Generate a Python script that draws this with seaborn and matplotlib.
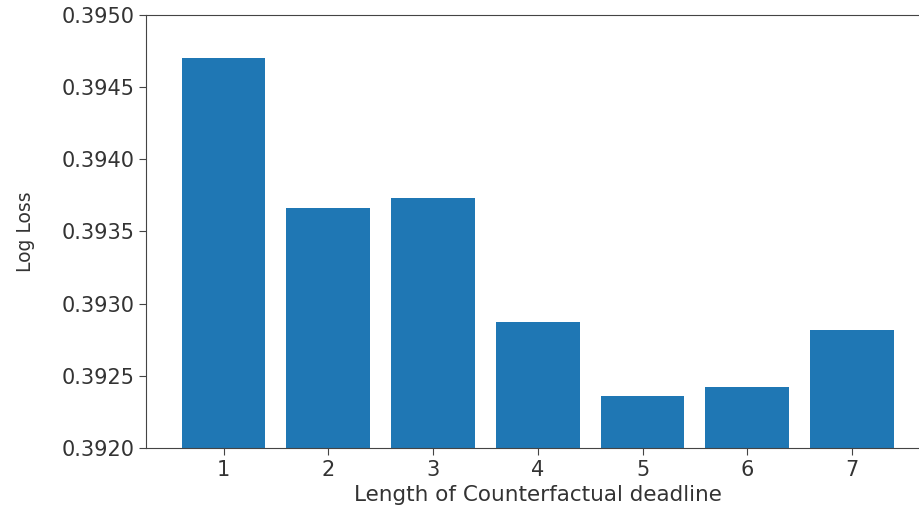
import matplotlib
matplotlib.use('Agg')
import matplotlib.pyplot as plt
from matplotlib.ticker import FormatStrFormatter, MultipleLocator
import seaborn as sns
import pandas as pd

# Log loss per counterfactual deadline length
deadline_lengths = [1, 2, 3, 4, 5, 6, 7]
log_loss = [0.39470, 0.39366, 0.39373, 0.39287, 0.39236, 0.39242, 0.39282]

df = pd.DataFrame({'length': deadline_lengths, 'loss': log_loss})

plt.rcParams['font.family'] = ['DejaVu Sans']
plt.rcParams['font.size'] = 13

fig = plt.figure(figsize=(9.19, 5.11), dpi=100)
# axes runs past the right edge like the cropped reference
ax = fig.add_axes([0.1589, 0.1233, 0.8526, 0.8474])

sns.barplot(data=df, x='length', y='loss', native_scale=True, width=0.8,
            color='#1f77b4', saturation=1, linewidth=0, ax=ax, errorbar=None)

ax.set_xlim(0.26, 7.74)
ax.set_ylim(0.3920, 0.3950)
ax.yaxis.set_major_locator(MultipleLocator(0.0005))
ax.yaxis.set_major_formatter(FormatStrFormatter('%.4f'))
ax.set_xticks(deadline_lengths)
ax.set_xticklabels([str(v) for v in deadline_lengths])
ax.tick_params(labelsize=15, length=5, color='#444444', labelcolor='#333333')
for s in ax.spines.values():
    s.set_color('#444444')

ax.set_xlabel('Length of Counterfactual deadline', fontsize=15.5, color='#333333')
ax.set_ylabel('Log Loss', fontsize=13.5, color='#333333')
ax.yaxis.set_label_coords(-0.142, 0.5)

fig.savefig('out.png', dpi=100)
